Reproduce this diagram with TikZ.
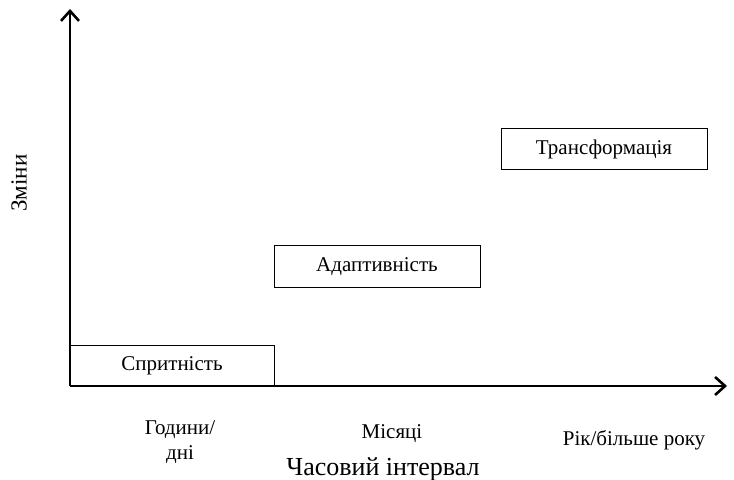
\documentclass[tikz,border=0pt]{standalone}
\usepackage{fontspec}
\setmainfont{Liberation Serif}
\usepackage{tikz}
\usetikzlibrary{arrows.meta}
\tikzset{
  axis/.style={draw=black, line width=1.3pt, -{Straight Barb[length=5pt, width=9pt, line width=1.3pt]}},
  stage/.style={draw=black, line width=0.5pt, inner sep=0pt, font=\fontsize{10.5}{12}\selectfont},
  lab/.style={font=\fontsize{10.5}{12.5}\selectfont, align=center},
}

\begin{document}
\begin{tikzpicture}[x=0.5pt, y=-0.5pt]
\useasboundingbox (0,0) rectangle (734,480);
% Axes
\coordinate (o) at (70,386);
\coordinate (ytop) at (70,9);
\coordinate (xend) at (727,386);
\draw[axis] (o) -- (ytop);
\draw[axis] (o) -- (xend);

% Stages
\node[stage, minimum width=102pt, minimum height=20pt] (agility) at (172,366) {Спритність};
\node[stage, minimum width=103pt, minimum height=21pt] (adapt) at (377,267) {Адаптивність};
\node[stage, minimum width=103pt, minimum height=20.5pt] (transf) at (604,149.5) {Трансформація};

% Axis labels
\node[lab] (hours) at (180,442) {Години/\\дні};
\node[lab] (months) at (392,434) {Місяці};
\node[lab] (year) at (634,440) {Рік/більше року};
\node[font=\fontsize{13}{15}\selectfont] (time) at (383,469) {Часовий інтервал};
\node[lab, font=\fontsize{11.5}{13}\selectfont, rotate=90] (change) at (19,183) {Зміни};
\end{tikzpicture}
\end{document}
